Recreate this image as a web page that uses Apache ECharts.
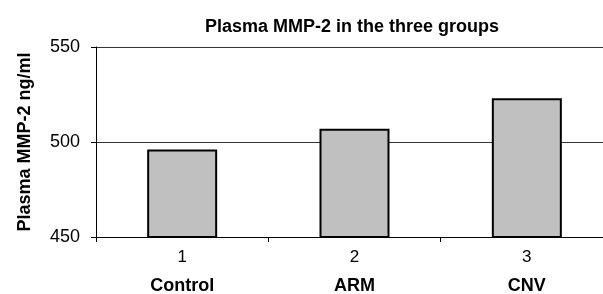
<!DOCTYPE html>
<html>
<head>
<meta charset="utf-8">
<script src="https://cdn.jsdelivr.net/npm/echarts@6/dist/echarts.min.js"></script>
<style>
  html, body { margin: 0; padding: 0; background: #fff; }
  #chart { width: 603px; height: 294px; }
</style>
</head>
<body>
<div id="chart"></div>
<script>
// data
const groupNumbers = ['1', '2', '3'];
const groupNames = ['Control', 'ARM', 'CNV'];
const mmp2Values = [496, 507, 523];
const yTicks = { min: 450, max: 550, interval: 50 };

const chart = echarts.init(document.getElementById('chart'));
const font = 'Liberation Sans, Arial, sans-serif';

chart.setOption({
    animation: false,
    title: {
        text: 'Plasma MMP-2 in the three groups',
        left: 200,
        top: 13,
        textStyle: { fontFamily: font, fontSize: 18, fontWeight: 'bold', color: '#000' }
    },
    // plot runs past the right edge in the reference, so let it overflow
    grid: { left: 96, top: 47, bottom: 57, right: -10, outerBoundsMode: 'none' },
    xAxis: {
        type: 'category',
        data: groupNumbers,
        axisLine: { lineStyle: { color: '#000', width: 1 } },
        axisTick: { show: true, length: 5, lineStyle: { color: '#000' } },
        axisLabel: {
            margin: 4,
            formatter: (val, i) => '{n|' + val + '}\n{g|' + groupNames[i] + '}',
            rich: {
                n: { fontFamily: font, fontSize: 17, color: '#000', lineHeight: 33 },
                g: { fontFamily: font, fontSize: 18, fontWeight: 'bold', color: '#000', lineHeight: 24 }
            }
        }
    },
    yAxis: {
        type: 'value',
        min: yTicks.min,
        max: yTicks.max,
        interval: yTicks.interval,
        name: 'Plasma MMP-2 ng/ml',
        nameLocation: 'middle',
        nameGap: 62,
        nameTextStyle: { fontFamily: font, fontSize: 18, fontWeight: 'bold', color: '#000' },
        axisLine: { show: true, lineStyle: { color: '#000', width: 1 } },
        axisTick: { show: true, length: 5, lineStyle: { color: '#000' } },
        axisLabel: { fontFamily: font, fontSize: 18, color: '#000', margin: 16 },
        splitLine: { show: true, lineStyle: { color: '#333', width: 1 } }
    },
    series: [{
        type: 'bar',
        data: mmp2Values,
        barWidth: 70,
        itemStyle: { color: '#c0c0c0', borderColor: '#000', borderWidth: 2 }
    }]
});
</script>
</body>
</html>
